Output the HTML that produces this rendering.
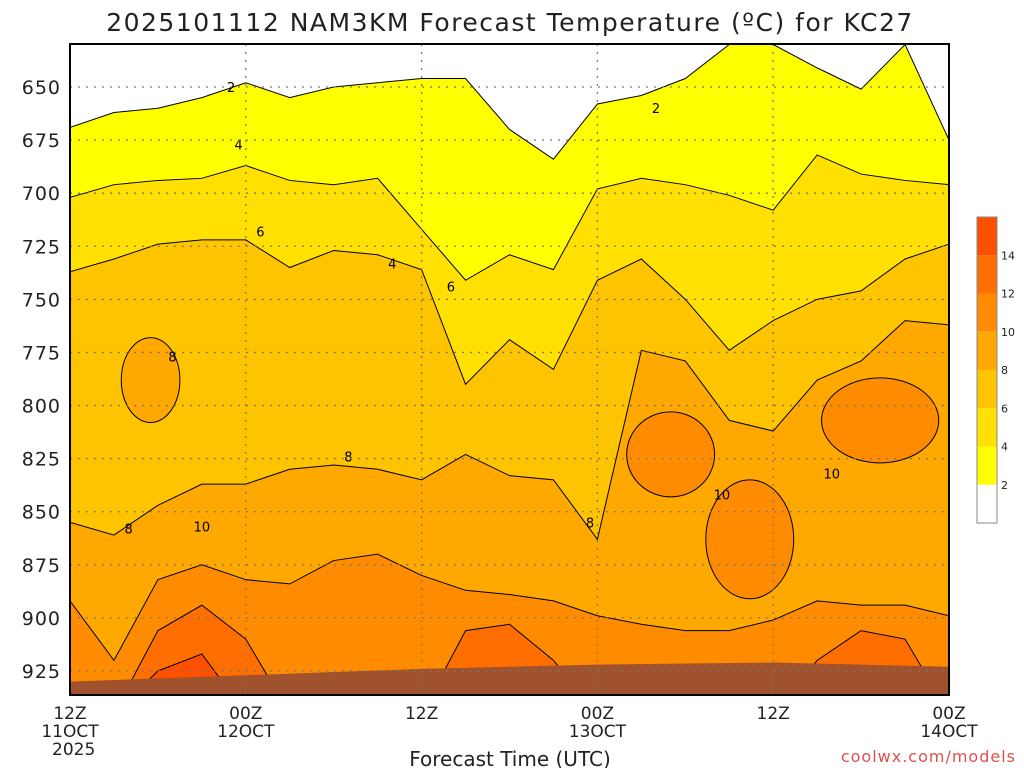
<!DOCTYPE html>
<html><head><meta charset="utf-8"><style>
body{margin:0;background:#fff;width:1024px;height:768px;overflow:hidden}
svg text{font-family:"DejaVu Sans","Liberation Sans",sans-serif}
</style></head><body>
<svg id="c" width="1024" height="768" xmlns="http://www.w3.org/2000/svg"></svg>
<script>
const hours=[0,3,6,9,12,15,18,21,24,27,30,33,36,39,42,45,48,51,54,57,60];
const iso2=[669,662,660,655,648,655,650,648,646,646,670,684,658,654,646,630,630,641,651,630,675];
const iso4=[702,696,694,693,687,694,696,693,717,741,729,736,698,693,696,701,708,682,691,694,696];
const iso6=[737,731,724,722,722,735,727,729,736,790,769,783,741,731,750,774,760,750,746,731,724];
const iso8=[855,861,847,837,837,830,828,830,835,823,833,835,863,774,779,807,812,788,779,760,762];
const iso10=[892,920,882,875,882,884,873,870,880,887,889,892,899,903,906,906,901,892,894,894,899];
const iso12=[null,null,906,894,910,null,null,null,null,906,903,920,null,null,null,null,null,920,906,910,null];
const iso14=[null,null,925,917,null,null,null,null,null,null,null,null,null,null,null,null,null,null,null,null,null];
const isoLevels=[2,4,6,8,10,12,14];
const bandColors=["#ffff00","#ffe000","#ffc400","#ffa800","#ff8c00","#ff6e00","#ff5000"];
const islandT=[5.5,46.4,41,55.3];
const islandP=[788,863,823,807];
const islandLevel=[8,10,10,10];
const terrainT=[0,12,24,36,48,60];
const terrainP=[930,927,924,922,921,923];
const labelT=[11,40,11.5,22,13,26,7,19,4,9,35.5,44.5,52];
const labelP=[650,660,677,733,718,744,777,824,858,857,855,842,832];
const labelV=[2,2,4,4,6,6,8,8,8,10,8,10,10];
const pTicks=[650,675,700,725,750,775,800,825,850,875,900,925];
const xTickH=[0,12,24,36,48,60];
const xTickL1=["12Z","00Z","12Z","00Z","12Z","00Z"];
const xTickL2=["11OCT","12OCT","","13OCT","","14OCT"];
const cbLevels=[2,4,6,8,10,12,14];

const L=70,R=949,T=44,B=695;
const X=h=>L+h*(R-L)/60;
const Y=p=>87+(p-650)*2.1236;
const svg=document.getElementById('c');
const NS="http://www.w3.org/2000/svg";
function mk(tag,at,parent){const e=document.createElementNS(NS,tag);for(const k in at)e.setAttribute(k,at[k]);(parent||svg).appendChild(e);return e;}
const clip=mk('clipPath',{id:'pc'});mk('rect',{x:L,y:T,width:R-L,height:B-T},clip);
const g=mk('g',{'clip-path':'url(#pc)'});


mk('rect',{x:L,y:T,width:R-L,height:B-T,fill:'#fff'},g);
const isos=[iso2,iso4,iso6,iso8,iso10,iso12,iso14];
isos.forEach((arr,k)=>{
  const pts=arr.map((p,i)=>[X(hours[i]),Y(p==null?945:Math.max(p,625))]);
  const d='M'+pts.map(q=>q.join(',')).join('L')+`L${R},${B+20}L${L},${B+20}Z`;
  const e=mk('path',{d,fill:bandColors[k],stroke:'#000','stroke-width':1},g);
  
  
});
islandT.forEach((t,i)=>{
  const k=isoLevels.indexOf(islandLevel[i]);
  const e=mk('ellipse',{cx:X(t),cy:Y(islandP[i]),rx:X(i==0?2:(i==3?4:3))-X(0),ry:Y(650+(i==1?28:20))-Y(650),fill:bandColors[k],stroke:'#000','stroke-width':1},g);
  
  
});
const tp=terrainT.map((t,i)=>X(t)+','+Y(terrainP[i])).join('L');
const terr=mk('path',{d:'M'+tp+`L${R},${B}L${L},${B}Z`,fill:'#a0522d'},g);


labelT.forEach((t,i)=>{
  const e=mk('text',{x:X(t),y:Y(labelP[i])+5,'text-anchor':'middle','font-size':13,fill:'#000'},g);
  e.textContent=labelV[i];
  
  
});
// grid
pTicks.forEach(p=>{
  const l=mk('line',{x1:L,x2:R,y1:Y(p),y2:Y(p),stroke:'#777','stroke-dasharray':'2,6','stroke-width':1.3});
  
  
  const t=mk('text',{x:61,y:Y(p)+7,'text-anchor':'end','font-size':19,fill:'#222','letter-spacing':'1'});t.textContent=p;
  
  
});
xTickH.forEach((h,i)=>{
  if(i>0&&i<5){const l=mk('line',{x1:X(h),x2:X(h),y1:T,y2:B,stroke:'#777','stroke-dasharray':'2,6','stroke-width':1.3});
  
  }
  const t=mk('text',{x:X(h),y:719,'text-anchor':'middle','font-size':17,fill:'#222'});t.textContent=xTickL1[i];
  
  
  if(xTickL2[i]){const t2=mk('text',{x:X(h),y:737,'text-anchor':'middle','font-size':17,fill:'#222'});t2.textContent=xTickL2[i];
  
  }
});
const yr=mk('text',{x:52,y:755,'font-size':17,fill:'#222'});yr.textContent='2025';


const fr=mk('rect',{x:L,y:T,width:R-L,height:B-T,fill:'none',stroke:'#000','stroke-width':2});


const ti=mk('text',{x:510,y:31,'text-anchor':'middle','font-size':25,fill:'#222','letter-spacing':'1.5'});ti.textContent='2025101112 NAM3KM Forecast Temperature (ºC) for KC27';


const xt=mk('text',{x:510,y:766,'text-anchor':'middle','font-size':20,fill:'#222'});xt.textContent='Forecast Time (UTC)';


const cr=mk('text',{x:1016,y:762,'text-anchor':'end','font-size':16,fill:'#e05050','letter-spacing':'1'});cr.textContent='coolwx.com/models';


// colorbar
const cbT=217,cbB=523,cbX=977,cbW=20,seg=(cbB-cbT)/8;
const cbc=['#ffffff'].concat(bandColors);
cbc.forEach((c,i)=>{const r=mk('rect',{x:cbX,y:cbB-(i+1)*seg,width:cbW,height:seg,fill:c});
  
  });
mk('rect',{x:cbX,y:cbT,width:cbW,height:cbB-cbT,fill:'none',stroke:'#888'});
cbLevels.forEach((v,i)=>{const yy=cbB-(i+1)*seg;
  const t=mk('text',{x:1001,y:yy+4,'font-size':11,fill:'#222'});t.textContent=v;
  
  });
</script>
</body></html>
